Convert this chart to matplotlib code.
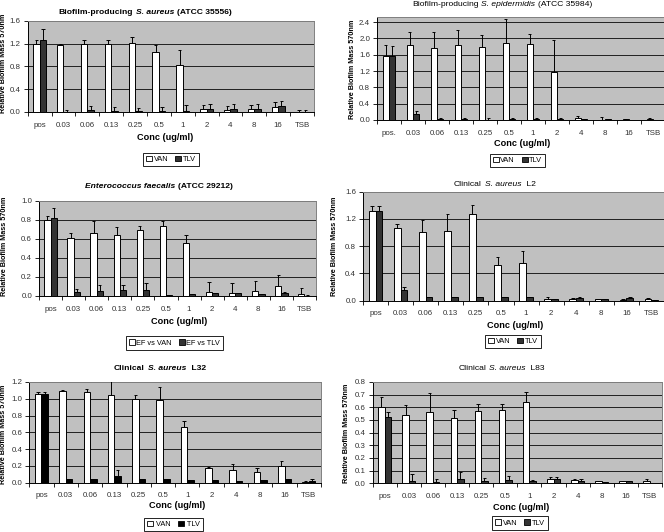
import matplotlib
matplotlib.use('Agg')
import numpy as np
import matplotlib.pyplot as plt
from matplotlib.patches import Patch
from matplotlib.offsetbox import TextArea, HPacker, AnchoredOffsetbox

plt.rcParams['font.family'] = ['Liberation Sans', 'DejaVu Sans']

W, H = 664, 532

conc = ['pos', '0.03', '0.06', '0.13', '0.25', '0.5', '1', '2', '4', '8', '16', 'TSB']
conc2 = ['pos.'] + conc[1:]

# panel 1: S. aureus ATCC 35556
van1 = [1.20, 1.18, 1.20, 1.20, 1.21, 1.06, 0.82, 0.05, 0.04, 0.05, 0.08, 0.00]
van1_sd = [0.07, 0.01, 0.07, 0.07, 0.11, 0.12, 0.26, 0.08, 0.07, 0.08, 0.09, 0.03]
tlv1 = [1.27, 0.00, 0.03, 0.02, 0.02, 0.02, 0.01, 0.06, 0.05, 0.06, 0.10, 0.00]
tlv1_sd = [0.19, 0.03, 0.07, 0.07, 0.05, 0.07, 0.11, 0.08, 0.09, 0.08, 0.09, 0.03]

# panel 2: S. epidermidis ATCC 35984
van2 = [1.56, 1.84, 1.76, 1.83, 1.78, 1.89, 1.86, 1.19, 0.04, 0.01, 0.02, 0.03]
van2_sd = [0.29, 0.32, 0.39, 0.37, 0.30, 0.59, 0.25, 0.77, 0.05, 0.06, 0.01, 0.01]
tlv2 = [1.57, 0.15, 0.02, 0.02, 0.01, 0.02, 0.02, 0.02, 0.02, 0.02, 0.01, 0.01]
tlv2_sd = [0.24, 0.06, 0.03, 0.02, 0.03, 0.02, 0.02, 0.02, 0.01, 0.01, 0.0, 0.0]

# panel 3: E. faecalis ATCC 29212
van3 = [0.80, 0.61, 0.665, 0.635, 0.695, 0.73, 0.56, 0.045, 0.035, 0.05, 0.105, 0.02]
van3_sd = [0.035, 0.055, 0.125, 0.09, 0.04, 0.06, 0.08, 0.10, 0.10, 0.105, 0.115, 0.065]
tlv3 = [0.815, 0.04, 0.05, 0.06, 0.06, 0.01, 0.02, 0.03, 0.03, 0.02, 0.03, 0.005]
tlv3_sd = [0.105, 0.03, 0.065, 0.06, 0.075, 0.0, 0.0, 0.0, 0.0, 0.0, 0.01, 0.01]

# panel 4: clinical L2
van4 = [1.32, 1.07, 1.01, 1.03, 1.27, 0.53, 0.56, 0.03, 0.03, 0.02, 0.01, 0.02]
van4_sd = [0.07, 0.06, 0.18, 0.25, 0.14, 0.11, 0.17, 0.02, 0.01, 0.01, 0.01, 0.02]
tlv4 = [1.32, 0.15, 0.05, 0.05, 0.05, 0.05, 0.05, 0.03, 0.04, 0.03, 0.04, 0.005]
tlv4_sd = [0.07, 0.05, 0.01, 0.01, 0.0, 0.0, 0.0, 0.0, 0.01, 0.0, 0.01, 0.0]

# panel 5: clinical L32
van5 = [1.06, 1.09, 1.08, 1.05, 1.00, 0.98, 0.66, 0.18, 0.15, 0.13, 0.20, 0.005]
van5_sd = [0.02, 0.02, 0.04, 0.20, 0.04, 0.16, 0.07, 0.01, 0.07, 0.04, 0.06, 0.015]
tlv5 = [1.06, 0.05, 0.05, 0.08, 0.04, 0.04, 0.03, 0.03, 0.02, 0.03, 0.04, 0.02]
tlv5_sd = [0.02, 0.0, 0.0, 0.07, 0.0, 0.0, 0.0, 0.0, 0.0, 0.0, 0.0, 0.03]

# panel 6: clinical L83
van6 = [0.60, 0.54, 0.565, 0.515, 0.57, 0.575, 0.64, 0.035, 0.025, 0.02, 0.015, 0.015]
van6_sd = [0.08, 0.075, 0.15, 0.065, 0.06, 0.055, 0.08, 0.015, 0.01, 0.0, 0.0, 0.02]
tlv6 = [0.52, 0.015, 0.01, 0.035, 0.02, 0.03, 0.015, 0.035, 0.02, 0.01, 0.015, 0.005]
tlv6_sd = [0.045, 0.055, 0.025, 0.055, 0.025, 0.03, 0.01, 0.015, 0.015, 0.0, 0.005, 0.0]


def fx(px):
    return px / W


def fy(py):
    return 1 - py / H


fig = plt.figure(figsize=(6.64, 5.32), dpi=100)

'''
one Excel style panel
'''
def panel(box, labels, van, van_sd, tlv, tlv_sd, ymax, ystep, title, title_bold,
          title_xy, ylab_xy, xlab_xy, leg_xy, leg_labels, tlv_color='#333333',
          fs=5.7):
    l, t, r, b = box
    ax = fig.add_axes([fx(l), fy(b), (r - l) / W, (b - t) / H])
    ax.set_facecolor('#C0C0C0')
    x = np.arange(len(labels))
    w = 0.27
    ax.bar(x - w / 2, van, w, color='white', edgecolor='black', lw=0.7, zorder=2)
    ax.bar(x + w / 2, tlv, w, color=tlv_color, edgecolor='black', lw=0.7, zorder=2)
    for xs, v, s in [(x - w / 2, van, van_sd), (x + w / 2, tlv, tlv_sd)]:
        v = np.array(v)
        top = v + np.array(s)
        ax.vlines(xs, v, top, color='black', lw=0.7, zorder=3)
        ax.hlines(top, xs - 0.07, xs + 0.07, color='black', lw=0.7, zorder=3)
    ax.set_xlim(-0.5, len(labels) - 0.5)
    ax.set_ylim(0, ymax)
    ticks = np.arange(0, ymax + 1e-6, ystep)
    ax.set_yticks(ticks)
    ax.set_yticklabels(['%.1f' % v for v in ticks])
    ax.yaxis.grid(True, color='#202020', lw=0.7)
    ax.set_axisbelow(True)
    ax.set_xticks(x)
    ax.set_xticklabels(labels)
    ax.set_xticks(np.arange(len(labels) + 1) - 0.5, minor=True)
    ax.tick_params(axis='x', which='major', length=0, pad=7, labelsize=fs, colors='#333333')
    ax.tick_params(axis='x', which='minor', length=3, width=0.6, direction='out')
    ax.tick_params(axis='y', length=3, width=0.6, pad=2, labelsize=fs, labelcolor='#333333')
    for sp in ['top', 'right']:
        ax.spines[sp].set_color('#808080')
        ax.spines[sp].set_linewidth(0.7)
    for sp in ['left', 'bottom']:
        ax.spines[sp].set_color('black')
        ax.spines[sp].set_linewidth(0.7)

    weight = 'bold' if title_bold else 'normal'
    kids = [TextArea(txt, textprops=dict(fontsize=6.1, fontweight=weight,
                                         fontstyle=st, color='black'))
            for txt, st in title]
    pack = HPacker(children=kids, align='baseline', pad=0, sep=2.0)
    abox = AnchoredOffsetbox(loc='center', child=pack, pad=0, borderpad=0, frameon=False,
                             bbox_to_anchor=(fx(title_xy[0]), fy(title_xy[1])),
                             bbox_transform=fig.transFigure)
    fig.add_artist(abox)

    fig.text(fx(ylab_xy[0]), fy(ylab_xy[1]), 'Relative Biofilm Mass 570nm', rotation=90,
             ha='center', va='center', fontsize=5.2, fontweight='bold')
    fig.text(fx(xlab_xy[0]), fy(xlab_xy[1]), 'Conc (ug/ml)', ha='center', va='center',
             fontsize=6.6, fontweight='bold')

    handles = [Patch(facecolor='white', edgecolor='black', lw=0.6),
               Patch(facecolor=tlv_color, edgecolor='black', lw=0.6)]
    leg = ax.legend(handles, leg_labels, loc='center',
                    bbox_to_anchor=(fx(leg_xy[0]), fy(leg_xy[1])),
                    bbox_transform=fig.transFigure, ncol=2, fontsize=5.3,
                    frameon=True, fancybox=False, edgecolor='black', framealpha=1,
                    handlelength=0.8, handleheight=0.8, handletextpad=0.2,
                    columnspacing=1.0, borderpad=0.4, borderaxespad=0)
    leg.get_frame().set_linewidth(0.6)
    return ax


panel((27.7, 20.7, 314, 112), conc, van1, van1_sd, tlv1, tlv1_sd, 1.6, 0.4,
      [('Biofilm-producing', 'normal'), ('S. aureus', 'italic'), ('(ATCC 35556)', 'normal')],
      True, (145, 13), (4, 63), (165.5, 138), (171, 159.5), ['VAN', 'TLV'])

panel((377, 17.3, 665, 120), conc2, van2, van2_sd, tlv2, tlv2_sd, 2.52, 0.4,
      [('Biofilm-producing', 'normal'), ('S. epidermidis', 'italic'), ('(ATCC 35984)', 'normal')],
      False, (502, 4), (353, 69), (522, 144), (517.5, 160.5), ['VAN', 'TLV'])

panel((39, 200.7, 316, 296), conc, van3, van3_sd, tlv3, tlv3_sd, 1.0, 0.2,
      [('Enterococcus faecalis', 'italic'), ('(ATCC 29212)', 'normal')],
      True, (159, 186), (5, 246.7), (179, 321), (174.5, 343), ['EF vs VAN', 'EF vs TLV'])

panel((363, 191.7, 664, 300.7), conc, van4, van4_sd, tlv4, tlv4_sd, 1.6, 0.4,
      [('Clinical', 'normal'), ('S. aureus', 'italic'), (' L2', 'normal')],
      False, (495, 185), (335, 246.7), (515, 325), (513, 341.5), ['VAN', 'TLV'])

panel((29.3, 382, 321, 482.7), conc, van5, van5_sd, tlv5, tlv5_sd, 1.2, 0.2,
      [('Clinical', 'normal'), ('S. aureus', 'italic'), (' L32', 'normal')],
      True, (160, 369), (4, 434), (177, 506), (173.5, 524.5), [' VAN', ' TLV'],
      tlv_color='black')

panel((372.7, 382, 662, 483.3), conc, van6, van6_sd, tlv6, tlv6_sd, 0.8, 0.1,
      [('Clinical', 'normal'), ('S. aureus', 'italic'), (' L83', 'normal')],
      False, (501.7, 369), (347, 433.7), (520.7, 507), (520, 523), ['VAN', 'TLV'])

fig.savefig('out.png', dpi=100)
